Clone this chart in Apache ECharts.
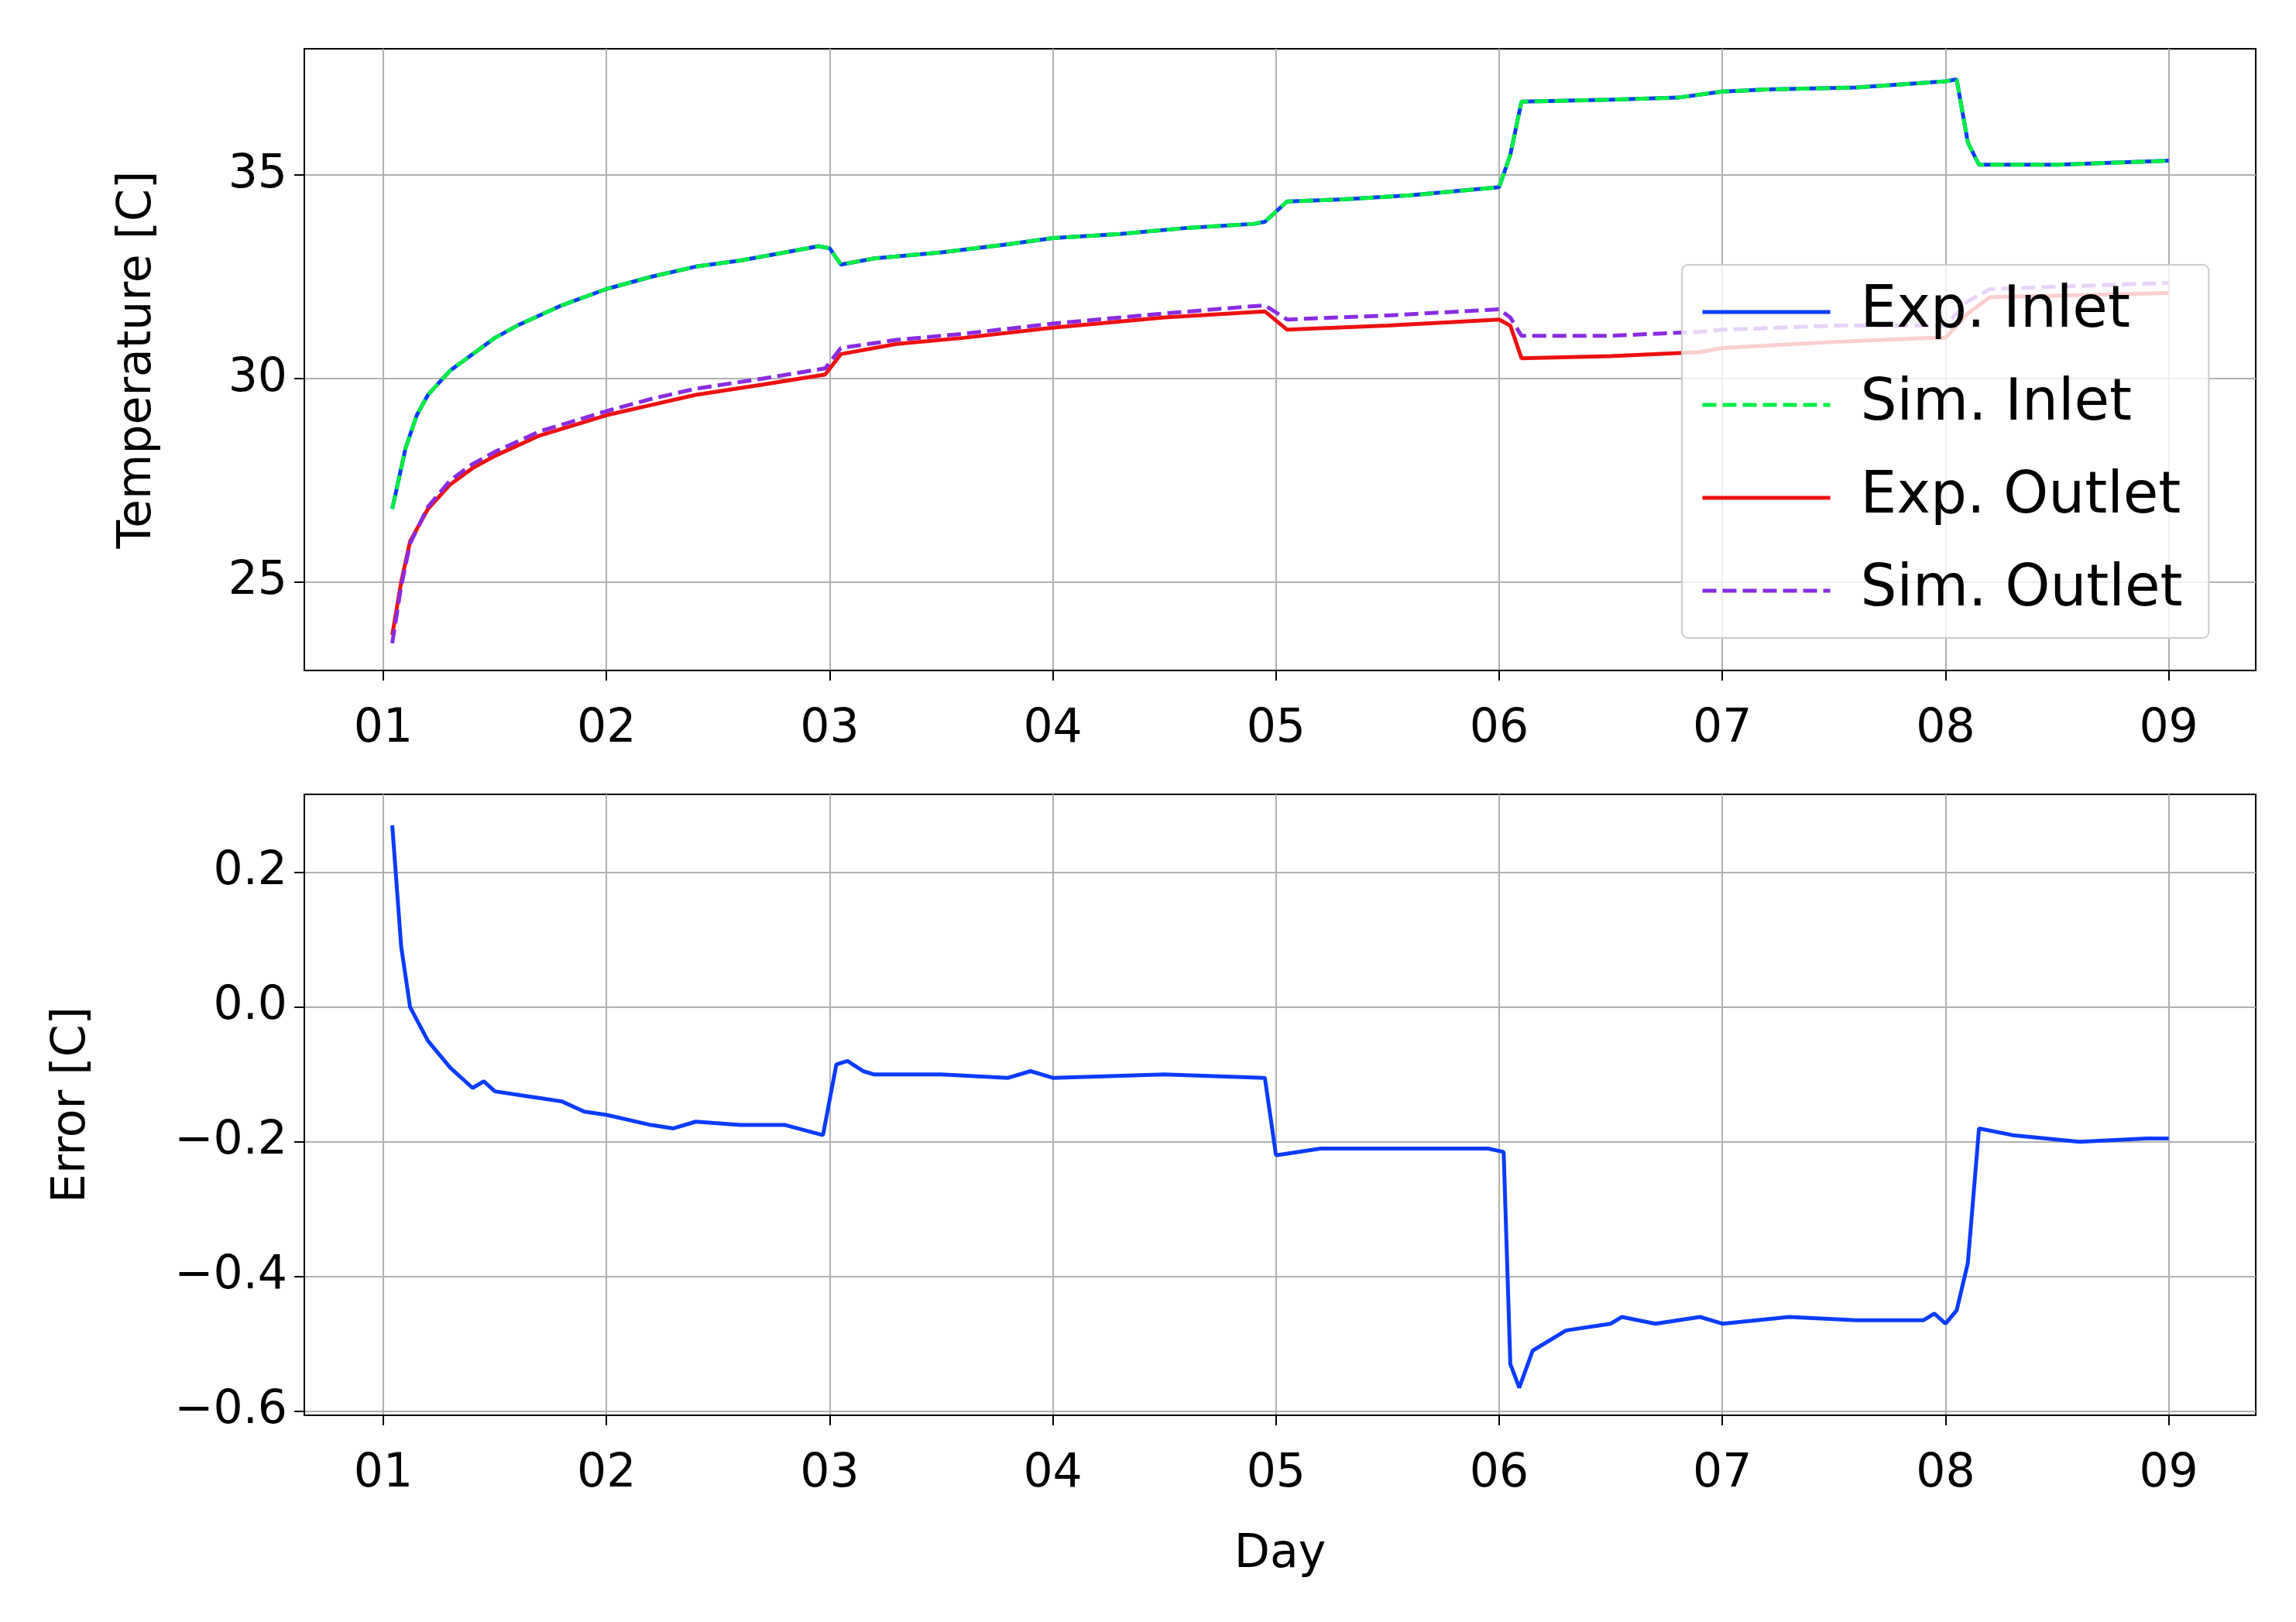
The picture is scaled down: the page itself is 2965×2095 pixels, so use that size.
<!DOCTYPE html>
<html>
<head>
<meta charset="utf-8">
<script src="https://cdn.jsdelivr.net/npm/echarts@6/dist/echarts.min.js"></script>
<style>
  html, body { margin: 0; padding: 0; background: #fff; }
  #main { width: 2965px; height: 2095px; }
</style>
</head>
<body>
<div id="main"></div>
<script>
var inletDays = [1.04, 1.1, 1.15, 1.2, 1.3, 1.4, 1.5, 1.6, 1.8, 2.0, 2.2, 2.4, 2.6, 2.8, 2.95, 3.0, 3.05, 3.2, 3.5, 3.8, 4.0, 4.3, 4.6, 4.9, 4.95, 5.05, 5.3, 5.6, 6.0, 6.05, 6.1, 6.5, 6.8, 7.0, 7.2, 7.6, 8.0, 8.05, 8.1, 8.15, 8.5, 9.0];
var inletExp = [26.8, 28.3, 29.1, 29.6, 30.2, 30.6, 31.0, 31.3, 31.8, 32.2, 32.5, 32.75, 32.9, 33.1, 33.25, 33.2, 32.8, 32.95, 33.1, 33.3, 33.45, 33.55, 33.7, 33.8, 33.85, 34.35, 34.4, 34.5, 34.7, 35.5, 36.8, 36.85, 36.9, 37.05, 37.1, 37.15, 37.3, 37.35, 35.8, 35.25, 35.25, 35.35];
var inletSim = inletExp;

var outletDays = [1.04, 1.08, 1.12, 1.2, 1.3, 1.4, 1.5, 1.7, 2.0, 2.2, 2.4, 2.7, 2.98, 3.05, 3.3, 3.6, 4.0, 4.5, 4.95, 5.05, 5.5, 6.0, 6.05, 6.1, 6.5, 6.9, 7.0, 7.5, 7.95, 8.0, 8.1, 8.2, 9.0];
var outletExp = [23.7, 25.0, 26.0, 26.8, 27.4, 27.8, 28.1, 28.6, 29.1, 29.35, 29.6, 29.85, 30.1, 30.6, 30.85, 31.0, 31.25, 31.5, 31.65, 31.2, 31.3, 31.45, 31.3, 30.5, 30.55, 30.65, 30.75, 30.9, 31.0, 31.0, 31.6, 32.0, 32.1];
var outletSim = [23.5, 24.9, 25.95, 26.85, 27.5, 27.9, 28.2, 28.7, 29.2, 29.5, 29.75, 30.0, 30.25, 30.75, 30.95, 31.1, 31.35, 31.6, 31.8, 31.45, 31.55, 31.7, 31.5, 31.05, 31.05, 31.15, 31.2, 31.3, 31.3, 31.3, 31.9, 32.2, 32.35];

var errDays = [1.04, 1.08, 1.12, 1.2, 1.3, 1.4, 1.45, 1.5, 1.6, 1.7, 1.8, 1.9, 2.0, 2.2, 2.3, 2.4, 2.6, 2.8, 2.97, 3.03, 3.08, 3.15, 3.2, 3.5, 3.8, 3.9, 4.0, 4.5, 4.95, 5.0, 5.2, 5.5, 5.8, 5.95, 6.02, 6.05, 6.09, 6.15, 6.3, 6.5, 6.55, 6.7, 6.9, 7.0, 7.3, 7.6, 7.9, 7.95, 8.0, 8.05, 8.1, 8.15, 8.3, 8.6, 8.9, 9.0];
var errVals = [0.27, 0.09, 0.0, -0.05, -0.09, -0.12, -0.11, -0.125, -0.13, -0.135, -0.14, -0.155, -0.16, -0.175, -0.18, -0.17, -0.175, -0.175, -0.19, -0.085, -0.08, -0.095, -0.1, -0.1, -0.105, -0.095, -0.105, -0.1, -0.105, -0.22, -0.21, -0.21, -0.21, -0.21, -0.215, -0.53, -0.565, -0.51, -0.48, -0.47, -0.46, -0.47, -0.46, -0.47, -0.46, -0.465, -0.465, -0.455, -0.47, -0.45, -0.38, -0.18, -0.19, -0.2, -0.195, -0.195];

var dayTicks = [1, 2, 3, 4, 5, 6, 7, 8, 9];
var tempTicks = [25, 30, 35];
var errTicks = [-0.6, -0.4, -0.2, 0.0, 0.2];

function pairs(xs, ys) {
    return xs.map(function (x, i) { return [x, ys[i]]; });
}

var font = 'DejaVu Sans';
var labelStyle = { fontFamily: font, fontSize: 60, color: '#000' };

function xAxis(grid, withName) {
    return {
        type: 'value', gridIndex: grid, min: 0.646, max: 9.39,
        name: withName ? 'Day' : '', nameLocation: 'middle', nameGap: 150,
        nameTextStyle: { fontFamily: font, fontSize: 60, color: '#000' },
        axisLine: { show: true, onZero: false, lineStyle: { color: '#000', width: 2 } },
        axisTick: { show: true, length: 13, lineStyle: { color: '#000', width: 2 }, customValues: dayTicks },
        axisLabel: Object.assign({ margin: 46, customValues: dayTicks, formatter: function (v) { return '0' + v; } }, labelStyle),
        splitLine: { show: true, lineStyle: { color: '#b0b0b0', width: 2 } }
    };
}

function yAxis(grid, name, min, max, ticks, gap, fmt) {
    return {
        type: 'value', gridIndex: grid, min: min, max: max,
        name: name, nameLocation: 'middle', nameGap: gap,
        nameTextStyle: { fontFamily: font, fontSize: 60, color: '#000' },
        axisLine: { show: true, lineStyle: { color: '#000', width: 2 } },
        axisTick: { show: true, length: 13, lineStyle: { color: '#000', width: 2 }, customValues: ticks },
        axisLabel: Object.assign({ margin: 22, customValues: ticks, formatter: fmt }, labelStyle),
        splitLine: { show: true, lineStyle: { color: '#b0b0b0', width: 2 } }
    };
}

var chart = echarts.init(document.getElementById('main'));
chart.setOption({
    animation: false,
    backgroundColor: '#fff',
    grid: [
        { left: 393, right: 52, top: 63, bottom: 1229, show: true, borderColor: '#000', borderWidth: 2 },
        { left: 393, right: 52, top: 1026, bottom: 267, show: true, borderColor: '#000', borderWidth: 2 }
    ],
    legend: {
        orient: 'vertical', left: 2172, top: 342,
        padding: [24, 34, 24, 24], itemGap: 46, itemWidth: 165, itemHeight: 20,
        backgroundColor: 'rgba(255,255,255,0.8)', borderColor: '#cccccc', borderWidth: 2, borderRadius: 8,
        itemStyle: { opacity: 0 },
        lineStyle: { width: 5 },
        textStyle: { fontFamily: font, fontSize: 74, color: '#000', padding: [0, 0, 0, 34] },
        data: ['Exp. Inlet', 'Sim. Inlet', 'Exp. Outlet', 'Sim. Outlet']
    },
    xAxis: [xAxis(0, false), xAxis(1, true)],
    yAxis: [
        yAxis(0, 'Temperature [C]', 22.83, 38.1, tempTicks, 185, function (v) { return String(v); }),
        yAxis(1, 'Error [C]', -0.606, 0.316, errTicks, 270, function (v) { return v.toFixed(1).replace('-', '\u2212'); })
    ],
    series: [
        { name: 'Exp. Inlet', type: 'line', xAxisIndex: 0, yAxisIndex: 0, symbol: 'none', color: '#0a3cff',
          lineStyle: { width: 5 }, data: pairs(inletDays, inletExp) },
        { name: 'Sim. Inlet', type: 'line', xAxisIndex: 0, yAxisIndex: 0, symbol: 'none', color: '#00ee44',
          lineStyle: { width: 5, type: [18, 8] }, data: pairs(inletDays, inletSim) },
        { name: 'Exp. Outlet', type: 'line', xAxisIndex: 0, yAxisIndex: 0, symbol: 'none', color: '#ee1111',
          lineStyle: { width: 5 }, data: pairs(outletDays, outletExp) },
        { name: 'Sim. Outlet', type: 'line', xAxisIndex: 0, yAxisIndex: 0, symbol: 'none', color: '#8a2be2',
          lineStyle: { width: 5, type: [18, 8] }, data: pairs(outletDays, outletSim) },
        { name: 'Error', type: 'line', xAxisIndex: 1, yAxisIndex: 1, symbol: 'none', color: '#0a3cff',
          lineStyle: { width: 5 }, data: pairs(errDays, errVals) }
    ]
});
</script>
</body>
</html>
